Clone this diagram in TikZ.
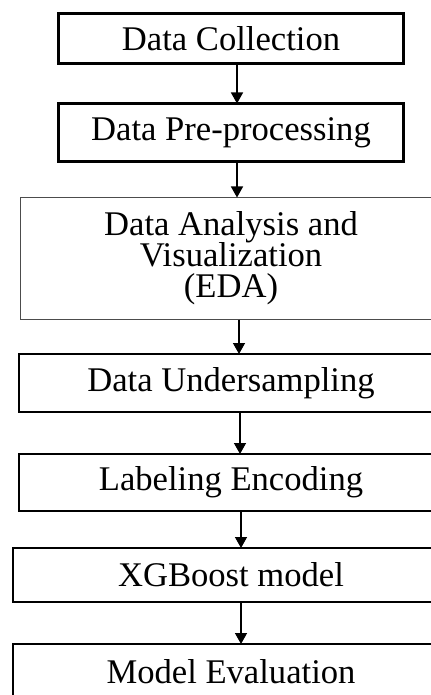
\documentclass[tikz,border=0pt]{standalone}
\usepackage{fontspec}
\setmainfont{Liberation Serif}
\usepackage{tikz}
\usetikzlibrary{arrows.meta,positioning}
\newcommand{\stagefont}{\fontsize{17.3}{15.5}\selectfont\lineskiplimit=-20pt\relax}

\begin{document}
\begin{tikzpicture}[
  stage/.style={draw, line width=1pt, fill=white, align=center, outer sep=0pt,
                inner sep=0pt, font=\stagefont},
  flow/.style={line width=0.7pt, -{Triangle[width=6pt,length=5.5pt]}},
]
  \path[use as bounding box, fill=white] (0,0) rectangle (215.5pt,-347.5pt);
  \clip (0,0) rectangle (215.5pt,-347.5pt);
  \node[stage, line width=1.5pt, minimum width=172.5pt, minimum height=25pt] (collection) at (115.5pt,-19.25pt) {Data Collection};
  \node[stage, line width=1.5pt, minimum width=172.5pt, minimum height=29pt, below=20pt of collection] (preprocess) {Data Pre-processing};
  \node[stage, line width=0.5pt, draw=black!70, minimum width=210.5pt, minimum height=61pt, below=18pt of preprocess] (eda) {Data Analysis and\\Visualization\\(EDA)};
  \node[stage, minimum width=212pt, minimum height=29pt, below=17.25pt of eda] (undersample) {Data Undersampling};
  \node[stage, minimum width=212pt, minimum height=28.5pt, below=21pt of undersample] (encoding) {Labeling Encoding};
  \node[stage, minimum width=218pt, minimum height=27pt, below=18.5pt of encoding] (xgboost) {XGBoost model};
  \node[stage, minimum width=218pt, minimum height=28pt, below=21pt of xgboost] (evaluation) {Model Evaluation};
  \draw[flow] ([xshift=3pt]collection.south) -- ([xshift=3pt]preprocess.north);
  \draw[flow] ([xshift=3pt]preprocess.south) -- ([xshift=3pt]eda.north);
  \draw[flow] ([xshift=4pt]eda.south) -- ([xshift=4pt]undersample.north);
  \draw[flow] ([xshift=4.5pt]undersample.south) -- ([xshift=4.5pt]encoding.north);
  \draw[flow] ([xshift=5pt]encoding.south) -- ([xshift=5pt]xgboost.north);
  \draw[flow] ([xshift=5pt]xgboost.south) -- ([xshift=5pt]evaluation.north);
\end{tikzpicture}
\end{document}
